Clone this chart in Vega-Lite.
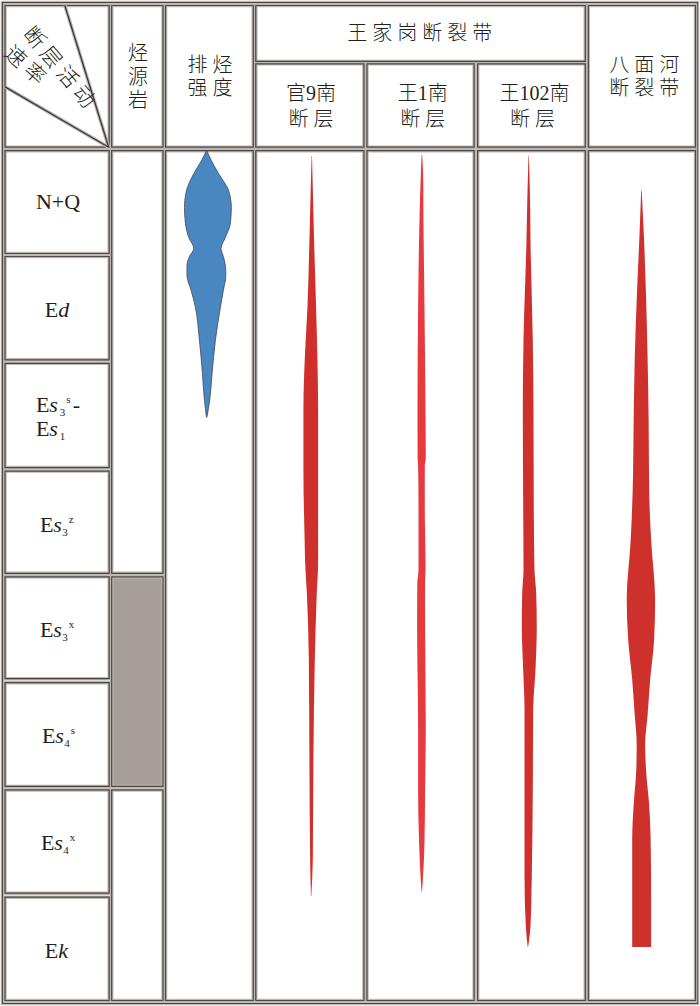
{
"$schema": "https://vega.github.io/schema/vega-lite/v6.json",
"width": 700, "height": 1006,
"autosize": {"type": "fit", "contains": "padding"},
"padding": 0,
"background": "white",
"config": {"view": {"stroke": null}},
"datasets": {
 "frame": [{"x1": 1.5, "x2": 698.5, "y1": 1.5, "y2": 1004.5}],
 "cells": [
  {"x1": 4, "x2": 108.5, "y1": 4.5, "y2": 146.5, "k": "w"},
  {"x1": 111, "x2": 162.5, "y1": 4.5, "y2": 146.5, "k": "w"},
  {"x1": 165, "x2": 253, "y1": 4.5, "y2": 146.5, "k": "w"},
  {"x1": 255.5, "x2": 586, "y1": 4.5, "y2": 60.5, "k": "w"},
  {"x1": 255.5, "x2": 364, "y1": 63, "y2": 146.5, "k": "w"},
  {"x1": 367, "x2": 474.5, "y1": 63, "y2": 146.5, "k": "w"},
  {"x1": 478, "x2": 586, "y1": 63, "y2": 146.5, "k": "w"},
  {"x1": 589, "x2": 696.5, "y1": 4.5, "y2": 146.5, "k": "w"},
  {"x1": 4, "x2": 108.5, "y1": 150, "y2": 253, "k": "w"},
  {"x1": 4, "x2": 108.5, "y1": 256, "y2": 359.5, "k": "w"},
  {"x1": 4, "x2": 108.5, "y1": 363, "y2": 467.5, "k": "w"},
  {"x1": 4, "x2": 108.5, "y1": 471, "y2": 573.5, "k": "w"},
  {"x1": 4, "x2": 108.5, "y1": 577, "y2": 679, "k": "w"},
  {"x1": 4, "x2": 108.5, "y1": 683, "y2": 787, "k": "w"},
  {"x1": 4, "x2": 108.5, "y1": 790.5, "y2": 894, "k": "w"},
  {"x1": 4, "x2": 108.5, "y1": 898, "y2": 1001.5, "k": "w"},
  {"x1": 111, "x2": 162.5, "y1": 150, "y2": 573.5, "k": "w"},
  {"x1": 111, "x2": 162.5, "y1": 577, "y2": 787, "k": "g"},
  {"x1": 111, "x2": 162.5, "y1": 790.5, "y2": 1001.5, "k": "w"},
  {"x1": 165, "x2": 253, "y1": 150, "y2": 1001.5, "k": "w"},
  {"x1": 255.5, "x2": 364, "y1": 150, "y2": 1001.5, "k": "w"},
  {"x1": 367, "x2": 474.5, "y1": 150, "y2": 1001.5, "k": "w"},
  {"x1": 478, "x2": 586, "y1": 150, "y2": 1001.5, "k": "w"},
  {"x1": 589, "x2": 696.5, "y1": 150, "y2": 1001.5, "k": "w"}
 ],
 "diag": [
  {"x": 64, "y": 4.5, "x2": 108, "y2": 146.5},
  {"x": 4, "y": 86, "x2": 108, "y2": 146.5}
 ],
 "blue": [
  {"y": 150, "l": 206, "r": 206.5},
  {"y": 160, "l": 201, "r": 211},
  {"y": 173, "l": 193.3, "r": 218.3},
  {"y": 190, "l": 186, "r": 228.3},
  {"y": 207, "l": 184, "r": 231},
  {"y": 223, "l": 185, "r": 230},
  {"y": 237, "l": 188.3, "r": 225},
  {"y": 248, "l": 193.3, "r": 220.7},
  {"y": 256, "l": 189, "r": 223},
  {"y": 265, "l": 186.5, "r": 225},
  {"y": 275, "l": 186.5, "r": 225.5},
  {"y": 290, "l": 190.7, "r": 223},
  {"y": 307, "l": 195, "r": 220},
  {"y": 340, "l": 199, "r": 215},
  {"y": 373, "l": 202, "r": 211.7},
  {"y": 400, "l": 204, "r": 209.3},
  {"y": 417, "l": 206, "r": 206.5}
 ],
 "red": [
  {"s": "g9", "y": 155, "l": 311.5, "r": 311.9},
  {"s": "g9", "y": 200, "l": 310.3, "r": 313},
  {"s": "g9", "y": 240, "l": 309.3, "r": 314},
  {"s": "g9", "y": 307, "l": 307.3, "r": 316},
  {"s": "g9", "y": 357, "l": 304.7, "r": 317.3},
  {"s": "g9", "y": 407, "l": 303.3, "r": 318},
  {"s": "g9", "y": 473, "l": 303.3, "r": 318},
  {"s": "g9", "y": 540, "l": 304.5, "r": 318},
  {"s": "g9", "y": 563, "l": 305, "r": 318},
  {"s": "g9", "y": 593, "l": 306.7, "r": 316.7},
  {"s": "g9", "y": 660, "l": 308.7, "r": 314.7},
  {"s": "g9", "y": 760, "l": 309.3, "r": 313.3},
  {"s": "g9", "y": 860, "l": 310, "r": 312.7},
  {"s": "g9", "y": 897, "l": 310.8, "r": 311.2},
  {"s": "w1", "y": 154, "l": 421.8, "r": 422.4},
  {"s": "w1", "y": 180, "l": 420.8, "r": 423.5},
  {"s": "w1", "y": 207, "l": 420, "r": 423.6},
  {"s": "w1", "y": 307, "l": 418.3, "r": 424.7},
  {"s": "w1", "y": 407, "l": 417.7, "r": 425.7},
  {"s": "w1", "y": 458, "l": 417.8, "r": 426},
  {"s": "w1", "y": 466, "l": 418.3, "r": 425},
  {"s": "w1", "y": 507, "l": 418.7, "r": 425},
  {"s": "w1", "y": 570, "l": 418.7, "r": 425.8},
  {"s": "w1", "y": 583, "l": 417.5, "r": 425.2},
  {"s": "w1", "y": 627, "l": 417.3, "r": 425.3},
  {"s": "w1", "y": 727, "l": 418.3, "r": 426},
  {"s": "w1", "y": 793, "l": 418.3, "r": 425.3},
  {"s": "w1", "y": 843, "l": 419.3, "r": 424.7},
  {"s": "w1", "y": 877, "l": 420.7, "r": 423.3},
  {"s": "w1", "y": 893, "l": 421.8, "r": 422.2},
  {"s": "w102", "y": 155, "l": 529, "r": 529.4},
  {"s": "w102", "y": 200, "l": 527.8, "r": 530.6},
  {"s": "w102", "y": 240, "l": 527, "r": 531},
  {"s": "w102", "y": 340, "l": 524, "r": 533.3},
  {"s": "w102", "y": 407, "l": 523.3, "r": 534},
  {"s": "w102", "y": 507, "l": 523.7, "r": 534.3},
  {"s": "w102", "y": 570, "l": 524, "r": 535},
  {"s": "w102", "y": 593, "l": 522.7, "r": 536.7},
  {"s": "w102", "y": 627, "l": 522.3, "r": 537.3},
  {"s": "w102", "y": 670, "l": 523.7, "r": 536},
  {"s": "w102", "y": 710, "l": 525, "r": 533.7},
  {"s": "w102", "y": 793, "l": 525, "r": 533.3},
  {"s": "w102", "y": 877, "l": 525, "r": 532.3},
  {"s": "w102", "y": 927, "l": 526.3, "r": 531},
  {"s": "w102", "y": 948, "l": 528.2, "r": 528.6},
  {"s": "bmh", "y": 190, "l": 642, "r": 642.5},
  {"s": "bmh", "y": 230, "l": 640.5, "r": 644.5},
  {"s": "bmh", "y": 300, "l": 637.5, "r": 647},
  {"s": "bmh", "y": 360, "l": 635.5, "r": 648.5},
  {"s": "bmh", "y": 420, "l": 634.5, "r": 649.5},
  {"s": "bmh", "y": 490, "l": 633.5, "r": 650},
  {"s": "bmh", "y": 540, "l": 631.5, "r": 652},
  {"s": "bmh", "y": 600, "l": 627.5, "r": 656},
  {"s": "bmh", "y": 640, "l": 629, "r": 655},
  {"s": "bmh", "y": 680, "l": 633, "r": 651},
  {"s": "bmh", "y": 715, "l": 635.5, "r": 648.5},
  {"s": "bmh", "y": 745, "l": 637.5, "r": 646},
  {"s": "bmh", "y": 772, "l": 637, "r": 647},
  {"s": "bmh", "y": 805, "l": 634.5, "r": 650},
  {"s": "bmh", "y": 840, "l": 633, "r": 651.5},
  {"s": "bmh", "y": 900, "l": 633, "r": 652},
  {"s": "bmh", "y": 948, "l": 633, "r": 652}
 ],
 "head": [
  {"t": "烃", "x": 137.5, "y": 53},
  {"t": "源", "x": 137.5, "y": 77},
  {"t": "岩", "x": 137.5, "y": 100},
  {"t": "排 烃", "x": 209.5, "y": 65},
  {"t": "强 度", "x": 209.5, "y": 88},
  {"t": "王 家 岗 断 裂 带", "x": 420, "y": 33},
  {"t": "官9南", "x": 311, "y": 93},
  {"t": "断 层", "x": 311, "y": 119},
  {"t": "王1南", "x": 423, "y": 93},
  {"t": "断 层", "x": 423, "y": 119},
  {"t": "王102南", "x": 535, "y": 93},
  {"t": "断 层", "x": 533, "y": 119},
  {"t": "八 面 河", "x": 645, "y": 65},
  {"t": "断 裂 带", "x": 645, "y": 88}
 ],
 "strataN": [
  {"t": "N+Q", "x": 35, "y": 208},
  {"t": "E", "x": 44, "y": 317},
  {"t": "E", "x": 35, "y": 412},
  {"t": "-", "x": 72, "y": 412},
  {"t": "E", "x": 35, "y": 436},
  {"t": "E", "x": 39, "y": 532},
  {"t": "E", "x": 39, "y": 637},
  {"t": "E", "x": 41, "y": 743},
  {"t": "E", "x": 40, "y": 851},
  {"t": "E", "x": 44, "y": 959}
 ],
 "strataI": [
  {"t": "d", "x": 57.4, "y": 317},
  {"t": "s", "x": 48.4, "y": 412},
  {"t": "s", "x": 48.4, "y": 436},
  {"t": "s", "x": 52.4, "y": 532},
  {"t": "s", "x": 52.4, "y": 637},
  {"t": "s", "x": 54.4, "y": 743},
  {"t": "s", "x": 53.4, "y": 851},
  {"t": "k", "x": 57.4, "y": 959}
 ],
 "strataS": [
  {"t": "3", "x": 59, "y": 416},
  {"t": "s", "x": 65.5, "y": 403},
  {"t": "1", "x": 59, "y": 440},
  {"t": "3", "x": 61.5, "y": 536},
  {"t": "z", "x": 68, "y": 523},
  {"t": "3", "x": 61.5, "y": 641},
  {"t": "x", "x": 68, "y": 628},
  {"t": "4", "x": 63.5, "y": 747},
  {"t": "s", "x": 70, "y": 734},
  {"t": "4", "x": 62.5, "y": 855},
  {"t": "x", "x": 69, "y": 842}
 ],
 "diagA": [{"t": "断 层 活 动", "x": 57.5, "y": 67}],
 "diagB": [{"t": "速 率", "x": 23.5, "y": 65}]
},
"layer": [
 {"data": {"name": "frame"},
  "mark": {"type": "rect", "filled": false, "color": "#bdb8b5", "strokeWidth": 3.5},
  "encoding": {
   "x": {"field": "x1", "type": "quantitative", "scale": {"domain": [0, 700], "nice": false, "zero": false}, "axis": null},
   "x2": {"field": "x2"},
   "y": {"field": "y1", "type": "quantitative", "scale": {"domain": [0, 1006], "nice": false, "zero": false, "reverse": true}, "axis": null},
   "y2": {"field": "y2"}}},
 {"data": {"name": "frame"},
  "mark": {"type": "rect", "filled": false, "color": "#4d4743", "strokeWidth": 1.2},
  "encoding": {
   "x": {"field": "x1", "type": "quantitative", "scale": {"domain": [0, 700], "nice": false, "zero": false}, "axis": null},
   "x2": {"field": "x2"},
   "y": {"field": "y1", "type": "quantitative", "scale": {"domain": [0, 1006], "nice": false, "zero": false, "reverse": true}, "axis": null},
   "y2": {"field": "y2"}}},
 {"data": {"name": "cells"},
  "mark": {"type": "rect", "stroke": "#bdb8b5", "strokeWidth": 3.5},
  "encoding": {
   "x": {"field": "x1", "type": "quantitative", "scale": {"domain": [0, 700], "nice": false, "zero": false}, "axis": null},
   "x2": {"field": "x2"},
   "y": {"field": "y1", "type": "quantitative", "scale": {"domain": [0, 1006], "nice": false, "zero": false, "reverse": true}, "axis": null},
   "y2": {"field": "y2"},
   "fill": {"field": "k", "type": "nominal", "scale": {"domain": ["w", "g"], "range": ["#ffffff", "#a59e99"]}, "legend": null}}},
 {"data": {"name": "cells"},
  "mark": {"type": "rect", "filled": false, "color": "#4d4743", "strokeWidth": 1.2},
  "encoding": {
   "x": {"field": "x1", "type": "quantitative", "scale": {"domain": [0, 700], "nice": false, "zero": false}, "axis": null},
   "x2": {"field": "x2"},
   "y": {"field": "y1", "type": "quantitative", "scale": {"domain": [0, 1006], "nice": false, "zero": false, "reverse": true}, "axis": null},
   "y2": {"field": "y2"}}},
 {"data": {"name": "diag"},
  "mark": {"type": "rule", "color": "#bdb8b5", "strokeWidth": 3.5},
  "encoding": {
   "x": {"field": "x", "type": "quantitative", "scale": {"domain": [0, 700], "nice": false, "zero": false}, "axis": null},
   "x2": {"field": "x2"},
   "y": {"field": "y", "type": "quantitative", "scale": {"domain": [0, 1006], "nice": false, "zero": false, "reverse": true}, "axis": null},
   "y2": {"field": "y2"}}},
 {"data": {"name": "diag"},
  "mark": {"type": "rule", "color": "#3d3835", "strokeWidth": 1.3},
  "encoding": {
   "x": {"field": "x", "type": "quantitative", "scale": {"domain": [0, 700], "nice": false, "zero": false}, "axis": null},
   "x2": {"field": "x2"},
   "y": {"field": "y", "type": "quantitative", "scale": {"domain": [0, 1006], "nice": false, "zero": false, "reverse": true}, "axis": null},
   "y2": {"field": "y2"}}},
 {"data": {"name": "blue"},
  "mark": {"type": "area", "orient": "horizontal", "interpolate": "monotone", "color": "#4a87c1", "stroke": "#3b4a5c", "strokeWidth": 0.8},
  "encoding": {
   "y": {"field": "y", "type": "quantitative", "scale": {"domain": [0, 1006], "nice": false, "zero": false, "reverse": true}, "axis": null},
   "x": {"field": "l", "type": "quantitative", "stack": null, "scale": {"domain": [0, 700], "nice": false, "zero": false}, "axis": null},
   "x2": {"field": "r"}}},
 {"data": {"name": "red"},
  "mark": {"type": "area", "orient": "horizontal", "interpolate": "monotone"},
  "encoding": {
   "y": {"field": "y", "type": "quantitative", "scale": {"domain": [0, 1006], "nice": false, "zero": false, "reverse": true}, "axis": null},
   "x": {"field": "l", "type": "quantitative", "stack": null, "scale": {"domain": [0, 700], "nice": false, "zero": false}, "axis": null},
   "x2": {"field": "r"},
   "color": {"field": "s", "type": "nominal", "scale": {"domain": ["g9", "w1", "w102", "bmh"], "range": ["#d0302b", "#e63a40", "#d0302b", "#ce312c"]}, "legend": null}}},
 {"data": {"name": "head"},
  "mark": {"type": "text", "font": "'Liberation Serif', 'Noto Sans CJK SC'", "fontSize": 20, "fontWeight": 300, "align": "center", "baseline": "middle", "color": "#231f20"},
  "encoding": {
   "x": {"field": "x", "type": "quantitative", "scale": {"domain": [0, 700], "nice": false, "zero": false}, "axis": null},
   "y": {"field": "y", "type": "quantitative", "scale": {"domain": [0, 1006], "nice": false, "zero": false, "reverse": true}, "axis": null},
   "text": {"field": "t"}}},
 {"data": {"name": "strataN"},
  "mark": {"type": "text", "font": "Liberation Serif", "fontSize": 22, "align": "left", "baseline": "alphabetic", "color": "#231f20"},
  "encoding": {
   "x": {"field": "x", "type": "quantitative", "scale": {"domain": [0, 700], "nice": false, "zero": false}, "axis": null},
   "y": {"field": "y", "type": "quantitative", "scale": {"domain": [0, 1006], "nice": false, "zero": false, "reverse": true}, "axis": null},
   "text": {"field": "t"}}},
 {"data": {"name": "strataI"},
  "mark": {"type": "text", "font": "Liberation Serif", "fontSize": 22, "fontStyle": "italic", "align": "left", "baseline": "alphabetic", "color": "#231f20"},
  "encoding": {
   "x": {"field": "x", "type": "quantitative", "scale": {"domain": [0, 700], "nice": false, "zero": false}, "axis": null},
   "y": {"field": "y", "type": "quantitative", "scale": {"domain": [0, 1006], "nice": false, "zero": false, "reverse": true}, "axis": null},
   "text": {"field": "t"}}},
 {"data": {"name": "strataS"},
  "mark": {"type": "text", "font": "Liberation Serif", "fontSize": 11, "align": "left", "baseline": "alphabetic", "color": "#231f20"},
  "encoding": {
   "x": {"field": "x", "type": "quantitative", "scale": {"domain": [0, 700], "nice": false, "zero": false}, "axis": null},
   "y": {"field": "y", "type": "quantitative", "scale": {"domain": [0, 1006], "nice": false, "zero": false, "reverse": true}, "axis": null},
   "text": {"field": "t"}}},
 {"data": {"name": "diagA"},
  "mark": {"type": "text", "font": "Noto Sans CJK SC", "fontSize": 21, "fontWeight": 300, "angle": 50, "align": "center", "baseline": "middle", "color": "#231f20"},
  "encoding": {
   "x": {"field": "x", "type": "quantitative", "scale": {"domain": [0, 700], "nice": false, "zero": false}, "axis": null},
   "y": {"field": "y", "type": "quantitative", "scale": {"domain": [0, 1006], "nice": false, "zero": false, "reverse": true}, "axis": null},
   "text": {"field": "t"}}},
 {"data": {"name": "diagB"},
  "mark": {"type": "text", "font": "Noto Sans CJK SC", "fontSize": 21, "fontWeight": 300, "angle": 42, "align": "center", "baseline": "middle", "color": "#231f20"},
  "encoding": {
   "x": {"field": "x", "type": "quantitative", "scale": {"domain": [0, 700], "nice": false, "zero": false}, "axis": null},
   "y": {"field": "y", "type": "quantitative", "scale": {"domain": [0, 1006], "nice": false, "zero": false, "reverse": true}, "axis": null},
   "text": {"field": "t"}}}
]
}
